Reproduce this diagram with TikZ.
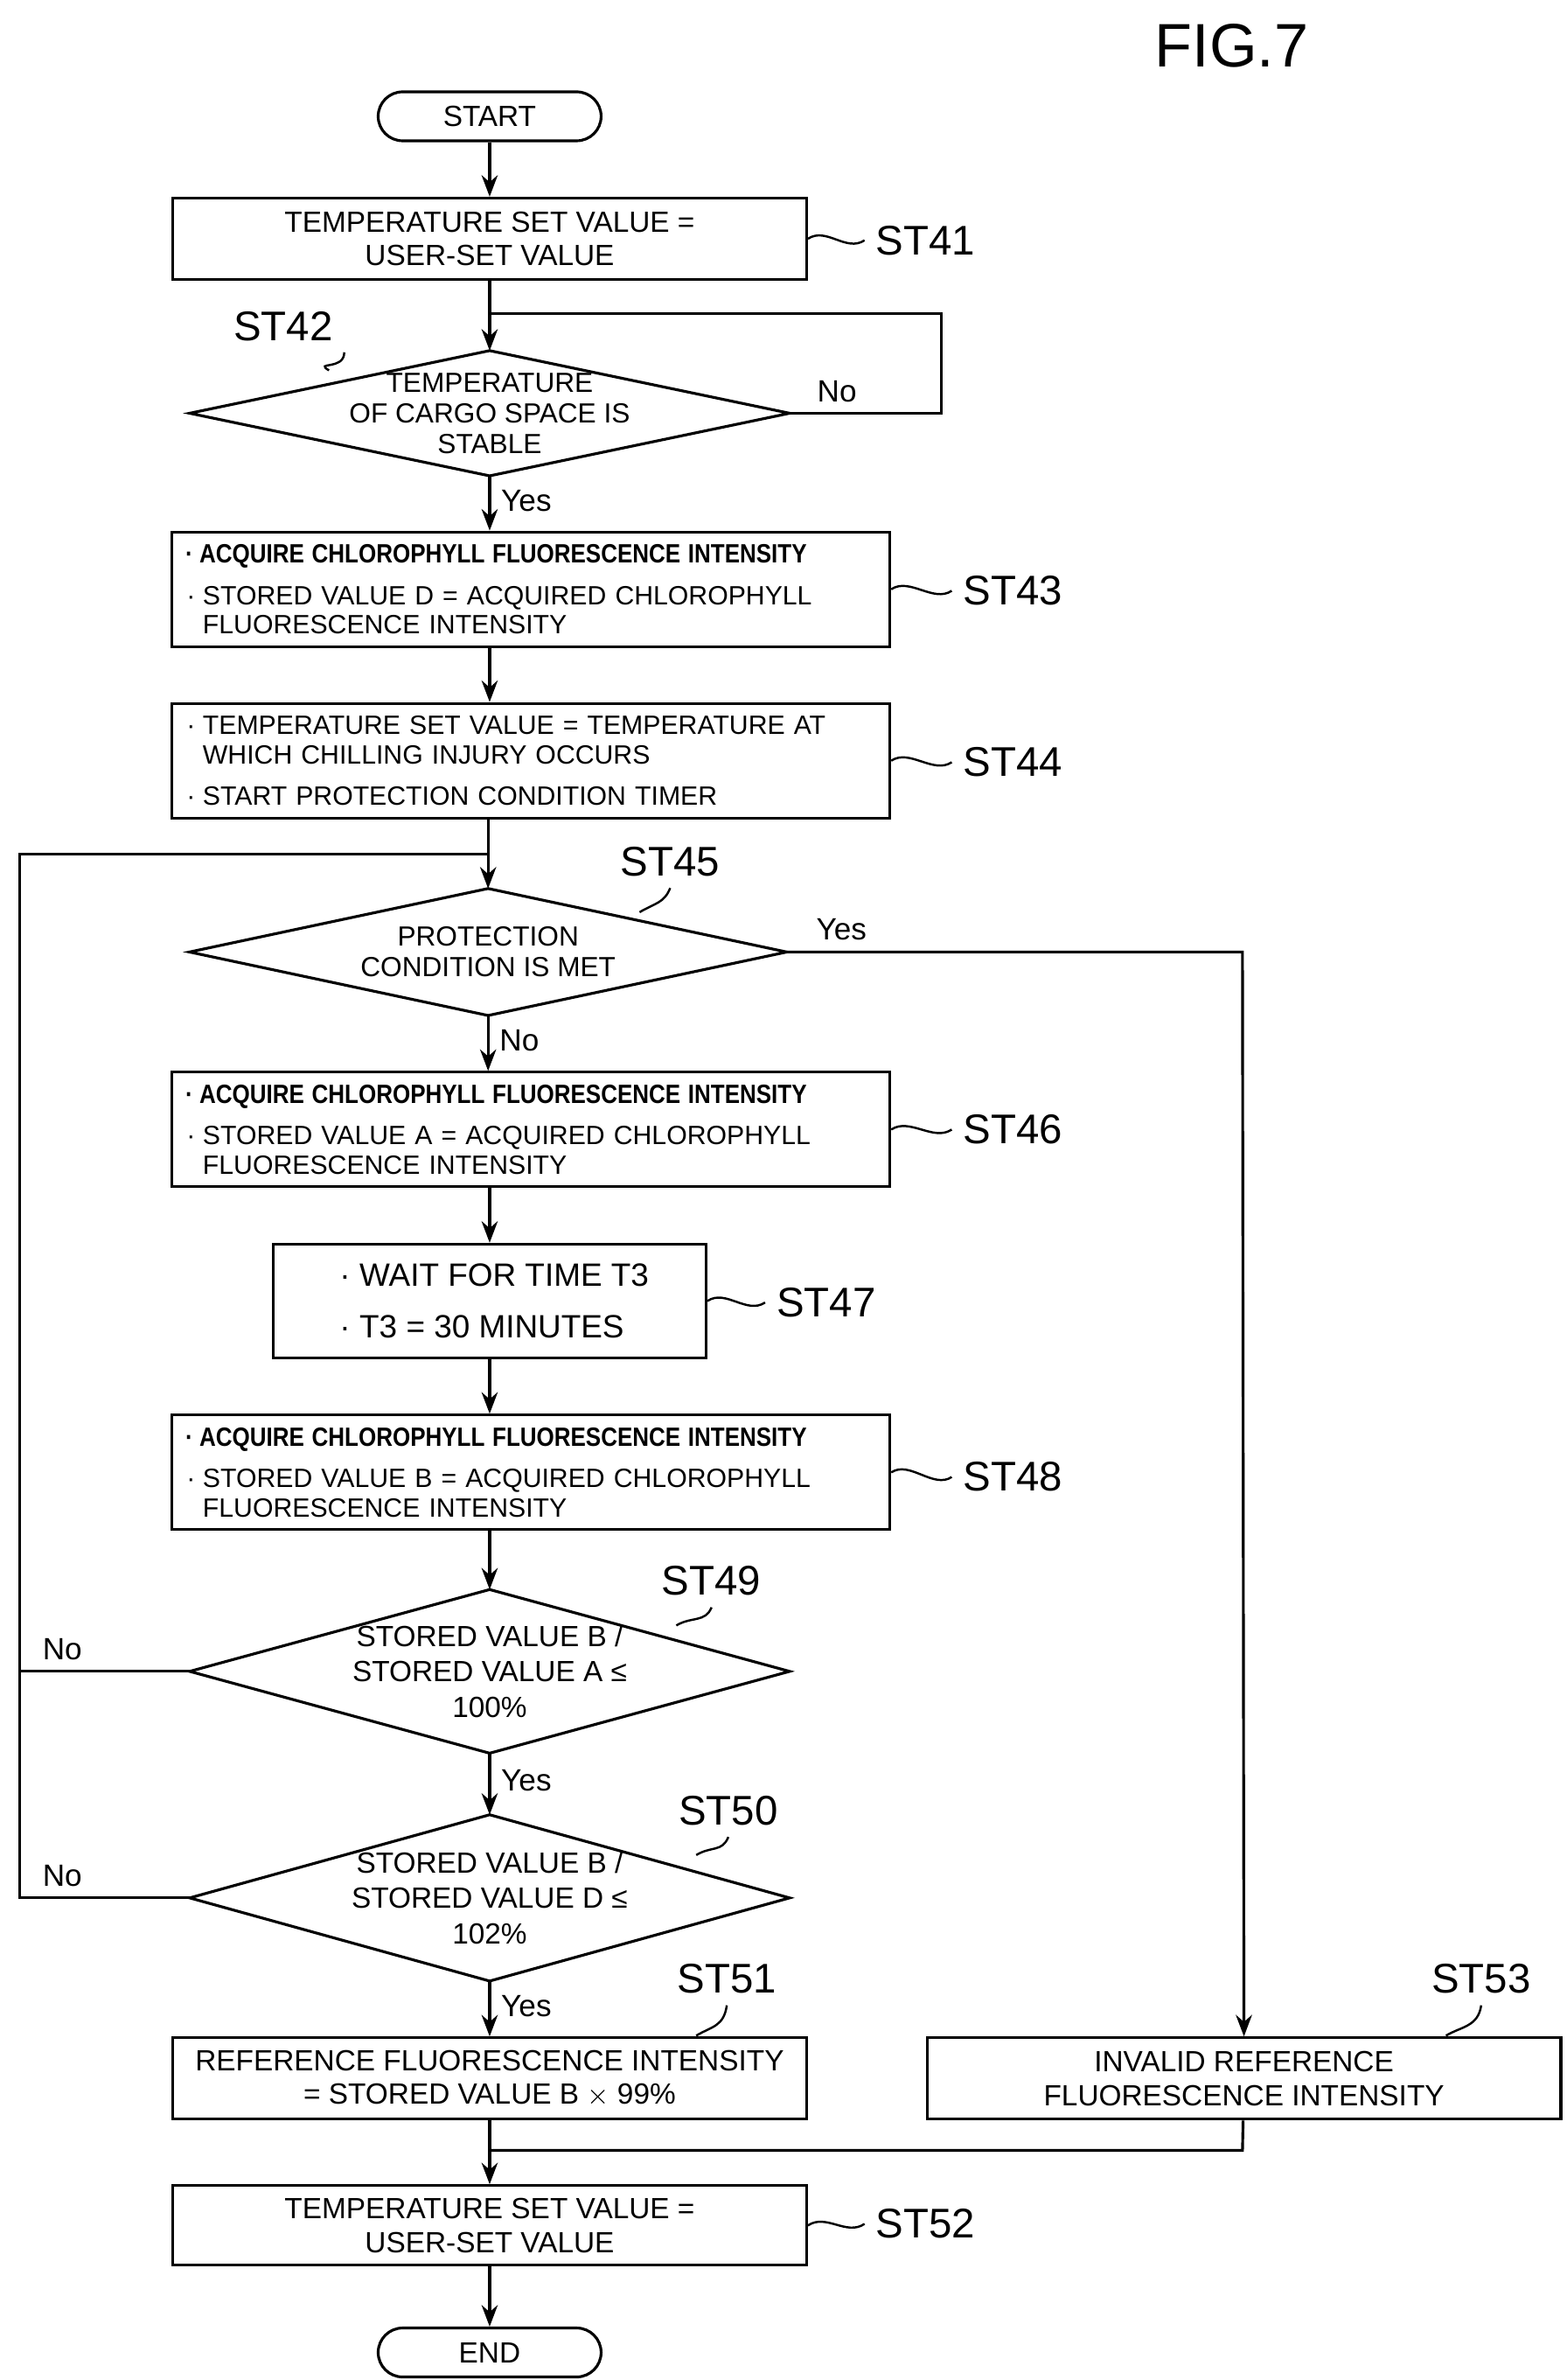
\documentclass[tikz,border=0pt]{standalone}
\usepackage{fontspec}
\usepackage{graphicx}
\setmainfont{Liberation Sans}
\usetikzlibrary{arrows.meta}
\newcommand{\bul}{\makebox[0.9em][c]{·}}
\newcommand{\hd}[1]{\scalebox{0.86}[1]{\textbf{#1}}}
\begin{document}
\begin{tikzpicture}[x=0.0175cm, y=-0.0175cm, >={Stealth[length=7pt]}, line width=0.9pt,
    font=\fontsize{9.5}{11}\selectfont,
    box/.style={draw, rectangle, align=center, inner sep=2pt},
    wbox/.style={draw, rectangle, align=left, text width=8.05cm, minimum width=8.21cm, minimum height=1.31cm, inner sep=2pt, font=\fontsize{8.6}{9.6}\selectfont},
    term/.style={draw, rounded corners=0.28cm, minimum width=2.55cm, minimum height=0.56cm},
    dia/.style={align=center, font=\fontsize{9}{10}\selectfont},
    lbl/.style={font=\fontsize{13.5}{14}\selectfont},
    yn/.style={font=\fontsize{10}{12}\selectfont}]
    \useasboundingbox (0,0) rectangle (1024,1555);
    % Title
    \node [font=\fontsize{20}{22}\selectfont] (fig) at (805,30) {FIG.7};

    % Nodes
    \node [term] (start) at (320,76) {START};
    \node [box, minimum width=7.25cm, minimum height=0.93cm] (st41) at (320,156) {TEMPERATURE SET VALUE =\\USER-SET VALUE};
    \node [dia, minimum width=6.83cm, minimum height=1.4cm] (st42) at (320,270) {TEMPERATURE\\OF CARGO SPACE IS\\STABLE};
    \node [wbox] (st43) at (347,385) {\hd{\bul ACQUIRE CHLOROPHYLL FLUORESCENCE INTENSITY}\\[4pt]\bul STORED VALUE D = ACQUIRED CHLOROPHYLL\\\hspace*{0.9em}FLUORESCENCE INTENSITY};
    \node [wbox] (st44) at (347,497) {\bul TEMPERATURE SET VALUE = TEMPERATURE AT\\\hspace*{0.9em}WHICH CHILLING INJURY OCCURS\\[4pt]\bul START PROTECTION CONDITION TIMER};
    \node [dia, minimum width=6.8cm, minimum height=1.42cm] (st45) at (319,622) {PROTECTION\\CONDITION IS MET};
    \node [wbox] (st46) at (347,738) {\hd{\bul ACQUIRE CHLOROPHYLL FLUORESCENCE INTENSITY}\\[4pt]\bul STORED VALUE A = ACQUIRED CHLOROPHYLL\\\hspace*{0.9em}FLUORESCENCE INTENSITY};
    \node [box, align=left, minimum width=4.95cm, minimum height=1.3cm, font=\fontsize{10.5}{14}\selectfont] (st47) at (320,850) {\bul WAIT FOR TIME T3\\[3pt]\bul T3 = 30 MINUTES};
    \node [wbox] (st48) at (347,962) {\hd{\bul ACQUIRE CHLOROPHYLL FLUORESCENCE INTENSITY}\\[4pt]\bul STORED VALUE B = ACQUIRED CHLOROPHYLL\\\hspace*{0.9em}FLUORESCENCE INTENSITY};
    \node [dia, minimum width=6.83cm, minimum height=1.84cm, font=\fontsize{9.5}{11.5}\selectfont] (st49) at (320,1092) {STORED VALUE B /\\STORED VALUE A ≤\\100\%};
    \node [dia, minimum width=6.83cm, minimum height=1.87cm, font=\fontsize{9.5}{11.5}\selectfont] (st50) at (320,1240) {STORED VALUE B /\\STORED VALUE D ≤\\102\%};
    \node [box, minimum width=7.25cm, minimum height=0.93cm] (st51) at (320,1358) {REFERENCE FLUORESCENCE INTENSITY\\= STORED VALUE B $\times$ 99\%};
    \node [box, minimum width=7.25cm, minimum height=0.93cm] (st53) at (813,1358) {INVALID REFERENCE\\FLUORESCENCE INTENSITY};
    \node [box, minimum width=7.25cm, minimum height=0.91cm] (st52) at (320,1454) {TEMPERATURE SET VALUE =\\USER-SET VALUE};
    \node [term] (end) at (320,1537) {END};

    % Diamonds
    \foreach \d in {st42,st45,st49,st50}
        \draw (\d.north) -- (\d.east) -- (\d.south) -- (\d.west) -- cycle;

    % Step labels
    \node [lbl] (l41) at (605,157) {ST41};
    \node [lbl] (l42) at (185,213) {ST42};
    \node [lbl] (l43) at (662,386) {ST43};
    \node [lbl] (l44) at (662,498) {ST44};
    \node [lbl] (l45) at (438,563) {ST45};
    \node [lbl] (l46) at (662,738) {ST46};
    \node [lbl] (l47) at (540,851) {ST47};
    \node [lbl] (l48) at (662,965) {ST48};
    \node [lbl] (l49) at (465,1033) {ST49};
    \node [lbl] (l50) at (476,1183) {ST50};
    \node [lbl] (l51) at (475,1293) {ST51};
    \node [lbl] (l53) at (968,1293) {ST53};
    \node [lbl] (l52) at (605,1453) {ST52};
    \foreach \b/\l in {st41/l41,st43/l43,st44/l44,st46/l46,st47/l47,st48/l48,st52/l52}
        \draw [line width=0.7pt] (\b.east) .. controls +(12,-8) and +(-12,8) .. (\l.west);
    \draw [line width=0.7pt] (l42.south east) .. controls +(0,12) and +(-10,-6) .. (215,242);
    \draw [line width=0.7pt] (l45.south) .. controls +(-4,10) and +(10,-6) .. (418,596);
    \draw [line width=0.7pt] (l49.south) .. controls +(-4,10) and +(10,-6) .. (442,1062);
    \draw [line width=0.7pt] (l50.south) .. controls +(-4,10) and +(10,-6) .. (455,1212);
    \draw [line width=0.7pt] (l51.south) .. controls +(-2,14) and +(10,-6) .. (455,1330);
    \draw [line width=0.7pt] (l53.south) .. controls +(-2,14) and +(10,-6) .. (945,1330);

    % Paths
    \coordinate (j42) at (320,205);
    \coordinate (j45) at (320,558);
    \coordinate (j52) at (320,1405);
    \draw [->] (start) -- (st41);
    \draw [->] (st41) -- (st42.north);
    \draw (st42.east) -- (615,270) -- (615,205) -- (j42);
    \node [yn] (no42) at (547,256) {No};
    \draw [->] (st42.south) -- (st43.north -| st42.south) node [pos=0.45, right, yn] {Yes};
    \draw [->] (st43.south -| st42.south) -- (st44.north -| st42.south);
    \draw [->] (st44.south -| st45.north) -- (st45.north);
    \draw [->] (st45.south) -- (st46.north -| st45.south) node [pos=0.45, right, yn] {No};
    \draw [->] (st46.south -| st47.north) -- (st47.north);
    \draw [->] (st47.south) -- (st48.north -| st47.south);
    \draw [->] (st48.south -| st49.north) -- (st49.north);
    \draw [->] (st49.south) -- (st50.north) node [pos=0.45, right, yn] {Yes};
    \draw [->] (st50.south) -- (st51) node [pos=0.45, right, yn] {Yes};
    \draw [->] (st45.east) -- (812,622) node [pos=0.12, above, yn] {Yes} -- (st53);
    \draw (st49.west) -- (13,1092) node [pos=0.75, above, yn] {No};
    \draw (st50.west) -- (13,1240) node [pos=0.75, above, yn] {No} -- (13,558) -- (j45);
    \draw (st53) -- (812,1405) -- (j52);
    \draw [->] (st51) -- (st52);
    \draw [->] (st52) -- (end);
\end{tikzpicture}
\end{document}
